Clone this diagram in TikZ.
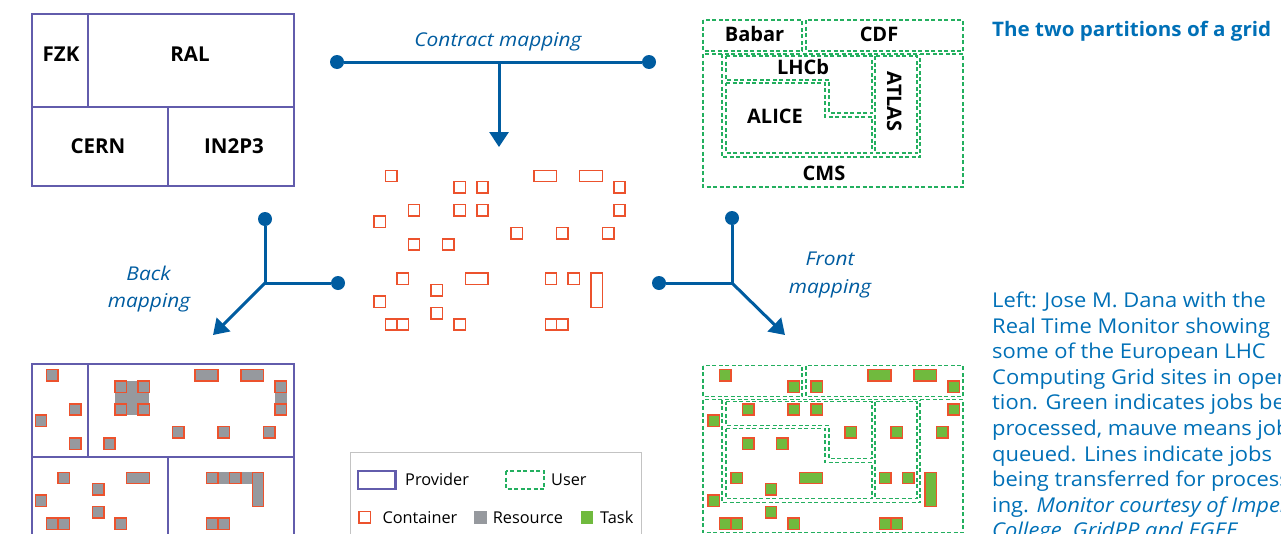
\documentclass[tikz,border=0pt]{standalone}
\usepackage{fontspec}
\setmainfont{Open Sans}
\newfontfamily\capfont[FakeStretch=1.075]{Open Sans}
\newfontfamily\headfont[FakeStretch=1.03]{Open Sans}
\newfontfamily\mapfont[FakeStretch=1.1]{Open Sans}
\usetikzlibrary{arrows.meta}
\definecolor{prov}{RGB}{98,92,172}
\definecolor{usergreen}{RGB}{35,175,95}
\definecolor{contred}{RGB}{236,82,45}
\definecolor{resgray}{RGB}{150,153,158}
\definecolor{taskgreen}{RGB}{112,186,62}
\definecolor{mapblue}{RGB}{0,92,160}
\definecolor{capblue}{RGB}{0,112,183}
\definecolor{legline}{RGB}{195,195,195}
\tikzset{
  provider/.style={draw=prov,line width=2.2pt},
  user/.style={draw=usergreen,line width=1.5pt,dash pattern=on 4pt off 2.5pt},
  cont/.style={draw=contred,line width=1.5pt},
  mapline/.style={draw=mapblue,line width=3pt},
  maparrow/.style={draw=mapblue,line width=3pt,-{Triangle[length=15pt,width=19pt]}},
  mapdot/.style={circle,fill=mapblue,minimum size=14pt,inner sep=0pt},
  plbl/.style={font=\bfseries\fontsize{20.5}{24}\selectfont,inner sep=0pt,anchor=base},
  ulbl/.style={font=\bfseries\fontsize{20}{24}\selectfont,inner sep=0pt,anchor=base},
  mlbl/.style={font=\mapfont\itshape\fontsize{19}{24}\selectfont,text=mapblue,inner sep=0pt,anchor=base},
  leg/.style={font=\fontsize{16.3}{20}\selectfont,inner sep=0pt,anchor=base west},
  captxt/.style={font=\capfont\fontsize{20.4}{25}\selectfont,text=capblue,inner sep=0pt,anchor=base west},
}
% grid cells
\newcommand\gcell[3]{\draw[#1] ({#2-0.5},{#3-0.5}) rectangle ({#2+0.5},{#3+0.5});}
\newcommand\gspan[5]{\draw[#1] ({#2-0.5},{#3-0.5}) rectangle ({#4+0.5},{#5+0.5});}
\newcommand\containerset[1]{%
  \foreach \i/\j in {1/0,7/1,9/1,21/1,3/3,7/3,9/3,21/3,0/4,12/5,16/5,20/5,3/6,6/6,2/9,15/9,17/9,5/10,0/11,5/12,1/13,2/13,7/13,15/13,16/13}{\gcell{#1}{\i}{\j}}
  \gspan{#1}{14}{0}{15}{0}
  \gspan{#1}{18}{0}{19}{0}
  \gspan{#1}{8}{9}{9}{9}
  \gspan{#1}{19}{9}{19}{11}}
\newcommand\providerboxes{%
  \draw[provider] (32,14) rectangle (294,186);
  \draw[provider] (88,14) -- (88,107);
  \draw[provider] (32,107) -- (294,107);
  \draw[provider] (168,107) -- (168,186);}
\newcommand\userregions{%
  \draw[user] (703,20) rectangle (802,51);
  \draw[user] (806,20) rectangle (963,51);
  \draw[user] (703,54) rectangle (963,187);
  \draw[user] (722,54) -- (722,157) -- (920,157) -- (920,54);
  \draw[user] (726,56) -- (872,56) -- (872,113) -- (829,113) -- (829,80) -- (726,80) -- cycle;
  \draw[user] (726,83) -- (825,83) -- (825,117) -- (872,117) -- (872,153) -- (726,153) -- cycle;
  \draw[user] (875,56) rectangle (917,153);}
\begin{document}
\begin{tikzpicture}[x=1pt,y=-1pt]
\useasboundingbox (0,0) rectangle (1281,533);
\clip (0,0) rectangle (1281,533);

% ---------- top-left: provider partition
\providerboxes
\node[plbl] (fzk) at (61,61.7) {FZK};
\node[plbl] (ral) at (190,61.7) {RAL};
\node[plbl] (cern) at (98,153.3) {CERN};
\node[plbl] (in2p3) at (234,153.3) {IN2P3};

% ---------- top-right: user partition
\userregions
\node[ulbl] (babar) at (754.5,41.7) {Babar};
\node[ulbl] (cdf) at (879,41.7) {CDF};
\node[ulbl] (lhcb) at (803,74) {LHCb};
\node[ulbl] (alice) at (775,123.3) {ALICE};
\node[ulbl] (cms) at (824,180) {CMS};
\node[ulbl,rotate=-90] (atlas) at (887,101.7) {ATLAS};

% ---------- contract mapping
\node[mlbl] (tcm) at (498,46.7) {Contract mapping};
\node[mapdot] (cm1) at (337,62) {};
\node[mapdot] (cm2) at (649,62) {};
\coordinate (cmj) at (499,62);
\coordinate (cmt) at (499,147);
\draw[mapline] (cm1) -- (cm2);
\draw[maparrow] (cmj) -- (cmt);

% ---------- back mapping
\node[mapdot] (bm1) at (265,219) {};
\node[mapdot] (bm2) at (338,283) {};
\coordinate (bmj) at (265,283);
\coordinate (bmt) at (213,335);
\draw[mapline] (bm1) |- (bm2);
\draw[maparrow] (bmj) -- (bmt);
\node[mlbl] (tbm1) at (148.5,280) {Back};
\node[mlbl] (tbm2) at (149,307.5) {mapping};

% ---------- front mapping
\node[mapdot] (fm1) at (732,218) {};
\node[mapdot] (fm2) at (659,283) {};
\coordinate (fmj) at (732,283);
\coordinate (fmt) at (785,335);
\draw[mapline] (fm1) |- (fm2);
\draw[maparrow] (fmj) -- (fmt);
\node[mlbl] (tfm1) at (830,265) {Front};
\node[mlbl] (tfm2) at (830,293) {mapping};

% ---------- middle: containers
\begin{scope}[shift={(379.7,176)},x=11.42pt,y=-11.42pt]
  \containerset{cont}
\end{scope}

% ---------- bottom-left: resources in provider partition
\begin{scope}[yshift=-350pt]
  \providerboxes
\end{scope}
\begin{scope}[shift={(41,375.2)},x=11.42pt,y=-11.42pt]
  \fill[resgray] (6.5,0.5) rectangle (9.5,3.5);
  \fill[resgray] (20.5,0.5) rectangle (21.5,3.5);
  \fill[resgray] (14.5,8.5) rectangle (19.5,9.5);
  \containerset{cont,fill=resgray}
\end{scope}

% ---------- bottom-right: tasks in user partition
\begin{scope}[yshift=-345.5pt]
  \userregions
\end{scope}
\begin{scope}[shift={(713.9,375.2)},x=11.42pt,y=-11.42pt]
  \containerset{cont,fill=taskgreen}
\end{scope}

% ---------- legend
\draw[legline,line width=1pt] (350,560) -- (350,452.3) -- (641.7,452.3) -- (641.7,560);
\draw[provider] (358,471) rectangle (395.5,489);
\node[leg] (lprov) at (405,485) {Provider};
\draw[user] (506,471) rectangle (544,489);
\node[leg] (luser) at (551,485) {User};
\draw[cont] (359,511.5) rectangle (370.5,523);
\node[leg] (lcont) at (382.3,523.3) {Container};
\fill[resgray] (474.3,511) rectangle (486.7,523.5);
\node[leg] (lres) at (492.7,523.3) {Resource};
\fill[taskgreen] (580.7,511) rectangle (593.3,523.5);
\node[leg] (ltask) at (600,523.3) {Task};

% ---------- caption
\node[captxt,font=\headfont\bfseries\fontsize{20}{25}\selectfont] (head) at (992,36.7) {The two partitions of a grid};
\node[captxt] (c1) at (992,307.5) {Left: Jose M. Dana with the};
\node[captxt] (c2) at (992,333.1) {Real Time Monitor showing};
\node[captxt] (c3) at (992,358.7) {some of the European LHC};
\node[captxt] (c4) at (992,384.3) {Computing Grid sites in opera-};
\node[captxt] (c5) at (992,409.9) {tion. Green indicates jobs being};
\node[captxt] (c6) at (992,435.5) {processed, mauve means jobs};
\node[captxt] (c7) at (992,461.1) {queued. Lines indicate jobs};
\node[captxt] (c8) at (992,486.7) {being transferred for process-};
\node[captxt] (c9) at (992,512.3) {ing. \itshape Monitor courtesy of Imperial};
\node[captxt] (c10) at (992,537.9) {\itshape College, GridPP and EGEE.};
\end{tikzpicture}
\end{document}
